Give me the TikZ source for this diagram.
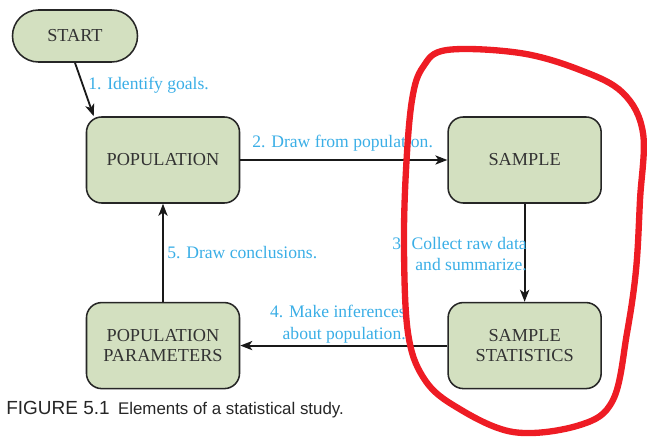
\documentclass[tikz,border=0pt]{standalone}
\usepackage{fontspec}
\setmainfont{Liberation Serif}
\newfontfamily\capfont{Liberation Sans}
\usetikzlibrary{arrows.meta, positioning}
\usepackage{xcolor}

\definecolor{boxgreen}{HTML}{D3E0C0}
\definecolor{stepblue}{HTML}{3AAEE6}
\definecolor{inkred}{HTML}{EE1C24}

\begin{document}
\begin{tikzpicture}[x=0.025cm, y=-0.025cm,
    box/.style={draw=black!85, line width=1.1pt, rounded corners=0.38cm, fill=boxgreen,
                minimum width=3.825cm, minimum height=2.15cm, align=center,
                text=black!80, font=\fontsize{13}{14}\selectfont, inner sep=2pt},
    pill/.style={box, rounded corners=0.65cm, minimum width=3.125cm, minimum height=1.3cm},
    arr/.style={-{Stealth[length=3mm, width=2.3mm, inset=0.8mm]}, line width=1.3pt, black!90},
    steplabel/.style={text=stepblue, align=right, inner sep=0pt,
                      font=\fontsize{12.5}{15.5}\selectfont},
    scribble/.style={draw=inkred, line width=4.5pt, line cap=round, line join=round}
  ]
  \useasboundingbox (0,0) rectangle (647,438);

  \node[pill] (start) at (75,36) {START};
  \node[box] (pop) at (163,160) {POPULATION};
  \node[box, right=5.175cm of pop] (sample) {SAMPLE};
  \node[box, below=2.45cm of sample] (stats) {SAMPLE\\STATISTICS};
  \node[box, below=2.45cm of pop] (params) {POPULATION\\PARAMETERS};

  \draw[arr] (start.south) -- ([xshift=0.2cm]pop.north west);
  \draw[arr] (pop) -- (sample);
  \draw[arr] (sample) -- (stats);
  \draw[arr] (stats) -- (params);
  \draw[arr] (params) -- (pop);

  % step labels
  \node[steplabel, anchor=west] (l1) at (88,85) {1. Identify goals.};
  \node[steplabel, anchor=west] (l2) at (252,143) {2. Draw from population.};
  \node[steplabel, anchor=east] (l3) at (527,254) {3. Collect raw data\\and summarize.};
  \node[steplabel, anchor=east] (l4) at (406,324) {4. Make inferences\\about population.};
  \node[steplabel, anchor=west] (l5) at (167,253) {5. Draw conclusions.};

  \node[anchor=west, inner sep=0pt, font=\capfont\fontsize{12}{13}\selectfont, text=black!85] (caption) at (6,410)
    {{\fontsize{13.5}{13}\selectfont FIGURE 5.1}\hspace{0.5em}Elements of a statistical study.};

  % hand drawn mark
  \draw[scribble] plot[smooth cycle, tension=0.6] coordinates {
    (447,50) (520,53) (580,70) (623,93) (643,133) (640,200) (636,270)
    (627,333) (613,400) (580,425) (513,432) (453,405) (423,377)
    (408,333) (404,250) (406,170) (412,100) (423,67)};
\end{tikzpicture}
\end{document}
